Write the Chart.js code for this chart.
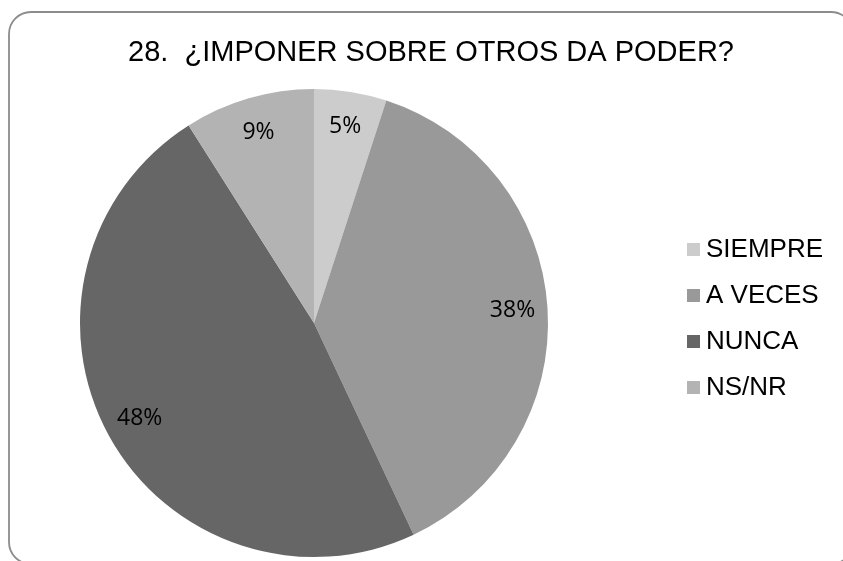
<!DOCTYPE html>
<html>
<head>
<meta charset="utf-8">
<script src="https://cdn.jsdelivr.net/npm/chart.js@4"></script>
<style>
  body { margin: 0; background: #fff; }
  #wrap { width: 843px; height: 561px; position: relative; }
</style>
</head>
<body>
<div id="wrap"><canvas id="pieChart" width="843" height="561"></canvas></div>
<script>
const chartTitle = '28.  ¿IMPONER SOBRE OTROS DA PODER?';
const categories = ['SIEMPRE', 'A VECES', 'NUNCA', 'NS/NR'];
const percents = [5, 38, 48, 9];
const sliceColors = ['#cccccc', '#999999', '#666666', '#b3b3b3'];

// rounded frame + title behind the pie
const framePlugin = {
    id: 'frame',
    beforeDraw(chart) {
        const c = chart.ctx;
        c.save();
        c.fillStyle = '#fff';
        c.fillRect(0, 0, chart.width, chart.height);
        c.strokeStyle = '#8c8c8c';
        c.lineWidth = 1.8;
        c.beginPath();
        c.roundRect(9, 12, 844, 552, 22);
        c.stroke();
        c.fillStyle = '#000';
        c.font = '29px "Liberation Sans", Arial, sans-serif';
        c.textAlign = 'center';
        c.textBaseline = 'alphabetic';
        c.fillText(chartTitle, 431, 61);
        c.restore();
    }
};

// percent labels near the rim of each slice
const pctLabels = {
    id: 'pctLabels',
    afterDatasetsDraw(chart) {
        const c = chart.ctx;
        const arcs = chart.getDatasetMeta(0).data;
        c.save();
        c.fillStyle = '#000';
        c.font = '23px "Open Sans", sans-serif';
        c.textAlign = 'center';
        c.textBaseline = 'middle';
        arcs.forEach((arc, i) => {
            const p = arc.getProps(['x', 'y', 'startAngle', 'endAngle', 'outerRadius'], true);
            const mid = (p.startAngle + p.endAngle) / 2;
            const r = p.outerRadius * 0.85;
            c.fillText(percents[i] + '%', p.x + Math.cos(mid) * r, p.y + Math.sin(mid) * r);
        });
        c.restore();
    }
};

// legend on the right
const sideLegend = {
    id: 'sideLegend',
    afterDraw(chart) {
        const c = chart.ctx;
        c.save();
        c.font = '26px "Liberation Sans", Arial, sans-serif';
        c.textAlign = 'left';
        c.textBaseline = 'alphabetic';
        chart.data.labels.forEach((lab, i) => {
            const base = 257 + i * 46;
            c.fillStyle = chart.data.datasets[0].backgroundColor[i];
            c.fillRect(687, base - 14, 13, 13);
            c.fillStyle = '#000';
            c.fillText(lab, 706, base);
        });
        c.restore();
    }
};

const ctx = document.getElementById('pieChart').getContext('2d');
const pieChart = new Chart(ctx, {
    type: 'pie',
    data: {
        labels: categories,
        datasets: [{
            data: percents,
            backgroundColor: sliceColors,
            borderWidth: 0
        }]
    },
    options: {
        responsive: false,
        animation: false,
        events: [],
        layout: {
            padding: { left: 80, right: 295, top: 89, bottom: 4 }
        },
        plugins: {
            legend: { display: false },
            title: { display: false },
            tooltip: { enabled: false }
        }
    },
    plugins: [framePlugin, pctLabels, sideLegend]
});
</script>
</body>
</html>
